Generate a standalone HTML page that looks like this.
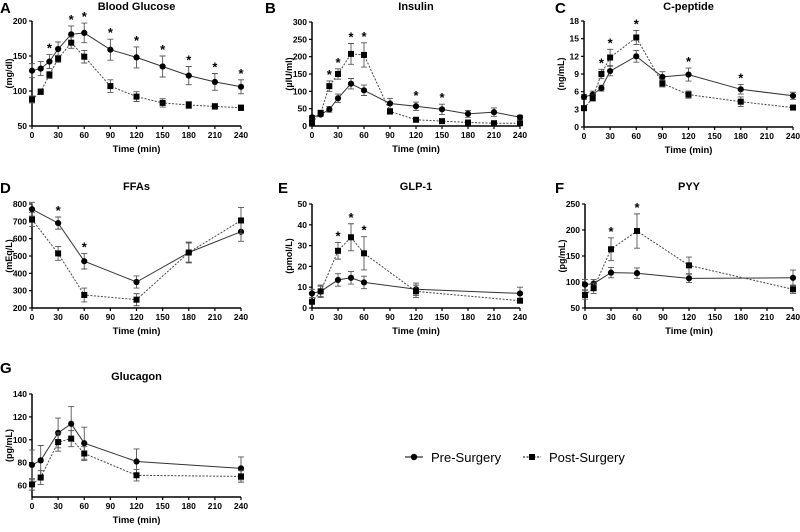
<!DOCTYPE html>
<html><head><meta charset="utf-8"><style>
body{margin:0;background:#fff}
svg{display:block;font-family:"Liberation Sans",Arial,sans-serif}
</style></head><body>
<svg id="fig" width="800" height="532" viewBox="0 0 800 532">
<g>
<g>
<line x1="405" y1="457" x2="423" y2="457" stroke="#000" stroke-width="1"/>
<circle cx="414" cy="457" r="3.2" fill="#000"/>
<text x="431" y="462" font-size="13" fill="#000">Pre-Surgery</text></g>
<g>
<line x1="523" y1="457" x2="541" y2="457" stroke="#000" stroke-width="1" stroke-dasharray="2,1.5"/>
<rect x="529" y="454" width="6" height="6" fill="#000"/>
<text x="549" y="462" font-size="13" fill="#000">Post-Surgery</text></g>
</g>
</svg>
<script>
const NS="http://www.w3.org/2000/svg";
const svg=document.getElementById('fig');
// ---- data ----
const timesA=[0,10,20,30,45,60,90,120,150,180,210,240];
const preA=[129,132,142,160,181,183,159,148,135,122,113,106];
const preAErr=[10,10,10,10,12,14,15,15,15,13,12,10];
const postA=[88,99,123,146,169,149,107,92,83,80,78,76];
const postAErr=[5,4,5,5,8,9,9,7,6,5,4,4];
const starsA=[20,45,60,90,120,150,180,210,240];
const ticksA=[50,100,150,200];

const timesB=[0,10,20,30,45,60,90,120,150,180,210,240];
const preB=[25,33,48,80,122,103,65,57,48,35,40,25];
const preBErr=[5,5,8,12,15,15,15,12,15,10,12,6];
const postB=[10,38,115,150,208,205,42,18,14,10,8,8];
const postBErr=[5,5,15,15,30,35,8,4,4,3,3,3];
const starsB=[20,30,45,60,120,150];
const ticksB=[0,50,100,150,200,250,300];

const timesC=[0,10,20,30,60,90,120,180,240];
const preC=[5.1,5.5,6.6,9.5,12,8.5,8.9,6.4,5.3];
const preCErr=[0.4,0.6,0.5,0.8,1,0.9,1.1,0.8,0.6];
const postC=[3.2,4.9,9,11.8,15.2,7.4,5.5,4.3,3.3];
const postCErr=[0.3,0.5,0.8,1.4,1.2,0.6,0.6,0.8,0.3];
const starsC=[20,30,60,120,180];
const ticksC=[0,3,6,9,12,15,18];

const timesD=[0,30,60,120,180,240];
const preD=[770,690,470,350,520,640];
const preDErr=[40,35,45,35,55,55];
const postD=[710,515,275,248,520,705];
const postDErr=[40,40,40,35,60,75];
const starsD=[30,60];
const ticksD=[200,300,400,500,600,700,800];

const timesE=[0,10,30,45,60,120,240];
const preE=[7,8,13.5,14.5,12.3,9,7];
const preEErr=[2,3,3,3,3,3,3];
const postE=[3,8,27.5,34,26.3,8,3.5];
const postEErr=[1,2.5,4,6.5,8,3,1];
const starsE=[30,45,60];
const ticksE=[0,10,20,30,40,50];

const timesF=[0,10,30,60,120,240];
const preF=[95,97,118,117,107,108];
const preFErr=[10,8,10,10,8,15];
const postF=[75,88,163,198,132,86];
const postFErr=[8,10,22,33,16,8];
const starsF=[30,60];
const ticksF=[50,100,150,200,250];

const timesG=[0,10,30,45,60,120,240];
const preG=[78,82,106,114,97,81,75];
const preGErr=[13,13,13,15,14,11,10];
const postG=[61,67,98,101,88,69,68];
const postGErr=[5,6,8,7,6,5,5];
const starsG=[];
const ticksG=[60,80,100,120,140];

function el(tag,attrs,parent){const e=document.createElementNS(NS,tag);for(const k in attrs)e.setAttribute(k,attrs[k]);(parent||svg).appendChild(e);return e;}
function txt(s,attrs,parent){const t=el('text',attrs,parent);t.textContent=s;return t;}

function panel(p){
  const g=el('g',{});
  
  
  const xs=v=>p.x0+(v/240)*(p.x1-p.x0);
  const ys=v=>p.yb+(v-p.ymin)/(p.ymax-p.ymin)*(p.yt-p.yb);
  const lt=txt(p.letter,{x:p.lx,y:p.ly,'font-size':15,'font-weight':'bold'},g);
  
  
  const tt=txt(p.title,{x:(p.x0+p.x1)/2,y:p.ty,'font-size':11,'font-weight':'bold','text-anchor':'middle'},g);
  
  
  const ya=el('line',{x1:p.x0,y1:p.yt,x2:p.x0,y2:p.yb,stroke:'#000','stroke-width':1.5},g);
  
  
  const xa=el('line',{x1:p.x0,y1:p.yb,x2:p.x1,y2:p.yb,stroke:'#000','stroke-width':1.5},g);
  
  
  p.yticks.forEach(v=>{
    el('line',{x1:p.x0-3,y1:ys(v),x2:p.x0,y2:ys(v),stroke:'#000','stroke-width':1.2},g);
    const t=txt(String(v),{x:p.x0-5,y:ys(v)+3,'font-size':8.5,'font-weight':'bold','text-anchor':'end'},g);
    
    
  });
  p.xticks.forEach(v=>{
    el('line',{x1:xs(v),y1:p.yb,x2:xs(v),y2:p.yb+3,stroke:'#000','stroke-width':1.2},g);
    const t=txt(String(v),{x:xs(v),y:p.yb+12,'font-size':8.5,'font-weight':'bold','text-anchor':'middle'},g);
    
    
  });
  const xt=txt(p.xlabel,{x:(p.x0+p.x1)/2,y:p.yb+26,'font-size':9.5,'font-weight':'bold','text-anchor':'middle'},g);
  
  
  const cy=(p.yt+p.yb)/2;
  const lx=p.x0-20;
  const yt=txt(p.ylabel,{x:lx,y:cy,'font-size':9,'font-weight':'bold','text-anchor':'middle',transform:`rotate(-90 ${lx} ${cy})`},g);
  
  
  function series(vals,errs,dash,square,name){
    const sg=el('g',{},g);
    
    
    const pts=p.times.map((t,i)=>xs(t).toFixed(1)+','+ys(vals[i]).toFixed(1)).join(' ');
    const ln=el('polyline',{points:pts,fill:'none',stroke:dash?'#444':'#333','stroke-width':1,'stroke-dasharray':dash?'2,1.5':'none'},sg);
    
    
    p.times.forEach((t,i)=>{
      const x=xs(t),y1=ys(vals[i]+errs[i]),y2=ys(vals[i]-errs[i]);
      const eb=el('path',{d:`M${x},${y1}V${y2}M${x-3},${y1}H${x+3}M${x-3},${y2}H${x+3}`,stroke:'#555','stroke-width':0.9,fill:'none'},sg);
      
      
    });
    p.times.forEach((t,i)=>{
      const x=xs(t),y=ys(vals[i]);
      let m;
      if(square) m=el('rect',{x:x-3,y:y-3,width:6,height:6,fill:'#000'},sg);
      else m=el('circle',{cx:x,cy:y,r:3.1,fill:'#000'},sg);
      
      
    });
  }
  series(p.pre,p.preErr,false,false,'pre-surgery-series');
  series(p.post,p.postErr,true,true,'post-surgery-series');
  p.stars.forEach(t=>{
    const i=p.times.indexOf(t);
    const top=Math.min(ys(p.pre[i]+p.preErr[i]),ys(p.post[i]+p.postErr[i]));
    const s=txt('*',{x:xs(t),y:top-2,'font-size':13,'font-weight':'bold','text-anchor':'middle'},g);
    
    
  });
}
const xt2=[0,30,60,90,120,150,180,210,240];
panel({key:'blood-glucose',letter:'A',lx:0,ly:13,title:'Blood Glucose',ty:10,x0:32,x1:241,yt:21,yb:126,ymin:50,ymax:200,yticks:ticksA,xticks:xt2,xlabel:'Time (min)',ylabel:'(mg/dl)',times:timesA,pre:preA,preErr:preAErr,post:postA,postErr:postAErr,stars:starsA});
panel({key:'insulin',letter:'B',lx:265,ly:13,title:'Insulin',ty:10,x0:312,x1:520,yt:22,yb:126,ymin:0,ymax:300,yticks:ticksB,xticks:xt2,xlabel:'Time  (min)',ylabel:'(µIU/ml)',times:timesB,pre:preB,preErr:preBErr,post:postB,postErr:postBErr,stars:starsB});
panel({key:'c-peptide',letter:'C',lx:555,ly:13,title:'C-peptide',ty:10,x0:584,x1:793,yt:21,yb:127,ymin:0,ymax:18,yticks:ticksC,xticks:xt2,xlabel:'Time (min)',ylabel:'(ng/mL)',times:timesC,pre:preC,preErr:preCErr,post:postC,postErr:postCErr,stars:starsC});
panel({key:'ffas',letter:'D',lx:0,ly:193,title:'FFAs',ty:190,x0:32,x1:241,yt:204,yb:308,ymin:200,ymax:800,yticks:ticksD,xticks:xt2,xlabel:'Time (min)',ylabel:'(mEq/L)',times:timesD,pre:preD,preErr:preDErr,post:postD,postErr:postDErr,stars:starsD});
panel({key:'glp-1',letter:'E',lx:278,ly:193,title:'GLP-1',ty:190,x0:312,x1:520,yt:204,yb:308,ymin:0,ymax:50,yticks:ticksE,xticks:xt2,xlabel:'Time (min)',ylabel:'(pmol/L)',times:timesE,pre:preE,preErr:preEErr,post:postE,postErr:postEErr,stars:starsE});
panel({key:'pyy',letter:'F',lx:555,ly:193,title:'PYY',ty:190,x0:585,x1:793,yt:204,yb:308,ymin:50,ymax:250,yticks:ticksF,xticks:xt2,xlabel:'Time  (min)',ylabel:'(pg/mL)',times:timesF,pre:preF,preErr:preFErr,post:postF,postErr:postFErr,stars:starsF});
panel({key:'glucagon',letter:'G',lx:0,ly:373,title:'Glucagon',ty:380,x0:32,x1:241,yt:394,yb:497,ymin:50,ymax:140,yticks:ticksG,xticks:xt2,xlabel:'Time  (min)',ylabel:'(pg/mL)',times:timesG,pre:preG,preErr:preGErr,post:postG,postErr:postGErr,stars:starsG});
</script>
</body></html>
